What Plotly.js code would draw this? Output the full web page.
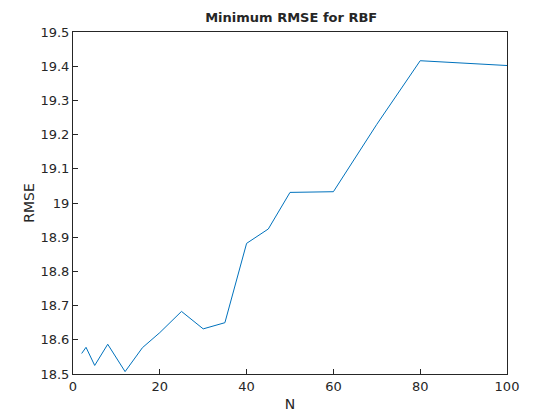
<!DOCTYPE html>
<html>
<head>
<script src="https://cdn.plot.ly/plotly-3.0.1.min.js"></script>
</head>
<body style="margin:0">
<div id="chart" style="width:560px;height:420px"></div>
<script>
// RMSE data
var nVals = [2, 3, 5, 8, 12, 16, 20, 25, 30, 35, 40, 45, 50, 60, 70, 80, 100]
var rmseVals = [18.56, 18.578, 18.525, 18.587, 18.507, 18.577, 18.621, 18.683, 18.632, 18.65, 18.882, 18.924, 19.031, 19.033, 19.23, 19.416, 19.402]
var yTicks = [18.5, 18.6, 18.7, 18.8, 18.9, 19, 19.1, 19.2, 19.3, 19.4, 19.5]
var yTickText = ['18.5', '18.6', '18.7', '18.8', '18.9', '19', '19.1', '19.2', '19.3', '19.4', '19.5']

var data = [{
    x: nVals,
    y: rmseVals,
    type: 'scatter',
    mode: 'lines',
    line: {color: '#0072bd', width: 1},
}]

var axisStyle = {
    showgrid: false,
    zeroline: false,
    showline: true,
    mirror: true,
    linecolor: '#262626',
    linewidth: 1,
    ticks: 'inside',
    ticklen: 5,
    tickcolor: '#262626',
    tickfont: {size: 13, color: '#262626'},
}

var layout = {
    width: 560,
    height: 420,
    font: {family: 'DejaVu Sans, sans-serif', color: '#262626'},
    title: {text: '<b>Minimum RMSE for RBF</b>', font: {size: 13}, x: 0.52, y: 0.97},
    showlegend: false,
    plot_bgcolor: 'white',
    paper_bgcolor: 'white',
    margin: {l: 73, r: 53, t: 32, b: 46},
    xaxis: Object.assign({}, axisStyle, {
        range: [0, 100],
        tickvals: [0, 20, 40, 60, 80, 100],
        title: {text: 'N', font: {size: 14}, standoff: 6},
    }),
    yaxis: Object.assign({}, axisStyle, {
        range: [18.5, 19.5],
        tickvals: yTicks,
        ticktext: yTickText,
        title: {text: 'RMSE', font: {size: 14}, standoff: 2},
    }),
}

Plotly.newPlot('chart', data, layout, {displayModeBar: false, staticPlot: true})
</script>
</body>
</html>
